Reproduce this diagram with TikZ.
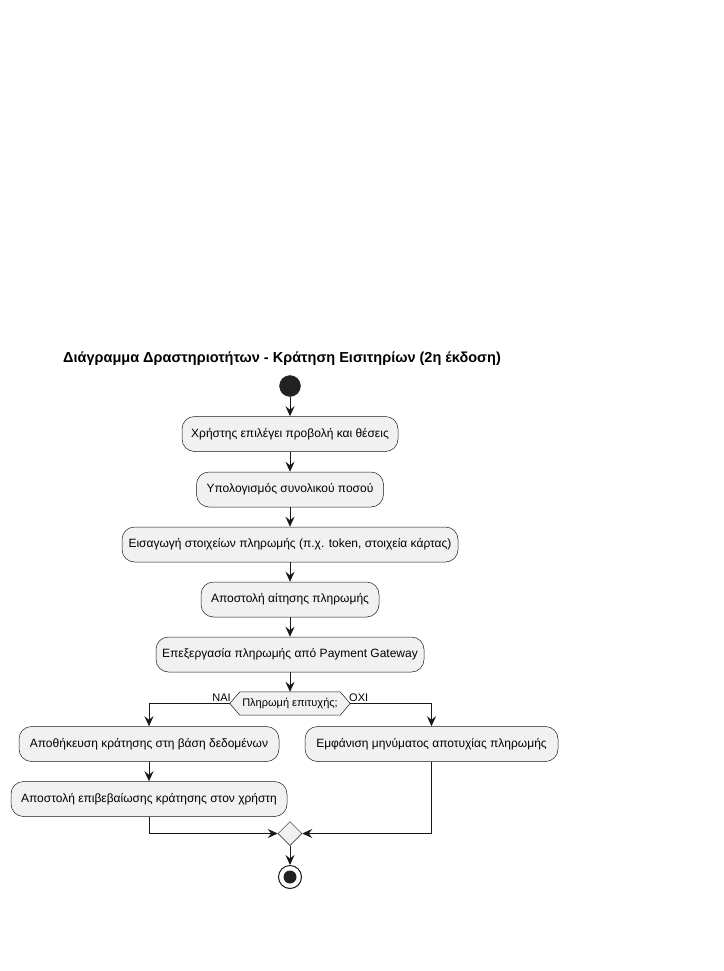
\documentclass[tikz,border=0pt]{standalone}
\usepackage{fontspec}
\setmainfont{Liberation Sans}
\usetikzlibrary{arrows.meta,shapes.geometric}
\definecolor{boxfill}{HTML}{F1F1F1}
\definecolor{ink}{HTML}{181818}
\definecolor{dot}{HTML}{222222}
\tikzset{
  act/.style={draw=ink, line width=0.5pt, fill=boxfill, rounded corners=12.5pt,
    minimum height=35pt, inner sep=0pt, font=\fontsize{12}{14}\selectfont, text=black},
  flow/.style={draw=ink, line width=1pt, -{Stealth[length=10pt,width=9pt,inset=3.5pt]}},
  lbl/.style={font=\fontsize{11}{13}\selectfont, inner sep=0pt, text=black},
}
\begin{document}
\begin{tikzpicture}[x=1pt,y=-1pt]
\useasboundingbox (0,0) rectangle (723,971);
\node[anchor=base west, inner sep=0pt, font=\fontsize{14.5}{16}\selectfont\bfseries] (title) at (63,362)
  {Διάγραμμα Δραστηριοτήτων - Κράτηση Εισιτηρίων (2η έκδοση)};
\node[circle, fill=dot, draw=dot, minimum size=21pt, inner sep=0pt] (start) at (290,386) {};
\node[act, minimum width=216pt] (b1) at (290,434) {Χρήστης επιλέγει προβολή και θέσεις};
\node[act, minimum width=187pt] (b2) at (290,489.5) {Υπολογισμός συνολικού ποσού};
\node[act, minimum width=336pt] (b3) at (290,544.5) {Εισαγωγή στοιχείων πληρωμής (π.χ. token, στοιχεία κάρτας)};
\node[act, minimum width=178pt] (b4) at (290,599.5) {Αποστολή αίτησης πληρωμής};
\node[act, minimum width=268pt] (b5) at (290,654.5) {Επεξεργασία πληρωμής από Payment Gateway};
\node[lbl, minimum width=120pt, minimum height=23pt] (d1) at (290,703.5) {};
\filldraw[draw=ink, fill=boxfill, line width=0.5pt]
  (d1.west) -- ([xshift=10pt]d1.north west) -- ([xshift=-10pt]d1.north east) -- (d1.east)
  -- ([xshift=-10pt]d1.south east) -- ([xshift=10pt]d1.south west) -- cycle;
\node[lbl] (d1t) at (d1.center) {Πληρωμή επιτυχής;};
\node[lbl, anchor=base east] (yes) at (231,701) {ΝΑΙ};
\node[lbl, anchor=base west] (no) at (349,701) {ΟΧΙ};
\node[act, minimum width=260pt] (l1) at (149,744) {Αποθήκευση κράτησης στη βάση δεδομένων};
\node[act, minimum width=276pt] (l2) at (149,799) {Αποστολή επιβεβαίωσης κράτησης στον χρήστη};
\node[act, minimum width=253pt] (r1) at (431.5,744) {Εμφάνιση μηνύματος αποτυχίας πληρωμής};
\node[diamond, draw=ink, fill=boxfill, line width=0.5pt, minimum width=24pt, minimum height=24pt, inner sep=0pt] (m) at (290,833.5) {};
\node[circle, draw=ink, fill=white, line width=1pt, minimum size=23pt, inner sep=0pt] (end) at (290,877) {};
\node[circle, fill=dot, minimum size=13pt, inner sep=0pt] (endin) at (end.center) {};
\draw[flow] (start) -- (b1);
\draw[flow] (b1) -- (b2);
\draw[flow] (b2) -- (b3);
\draw[flow] (b3) -- (b4);
\draw[flow] (b4) -- (b5);
\draw[flow] (b5) -- (d1.north);
\draw[flow] (d1.west) -| (l1.north);
\draw[flow] (d1.east) -| (r1.north);
\draw[flow] (l1) -- (l2);
\draw[flow] (l2.south) |- (m.west);
\draw[flow] (r1.south) |- (m.east);
\draw[flow] (m.south) -- (end.north);
\end{tikzpicture}
\end{document}
